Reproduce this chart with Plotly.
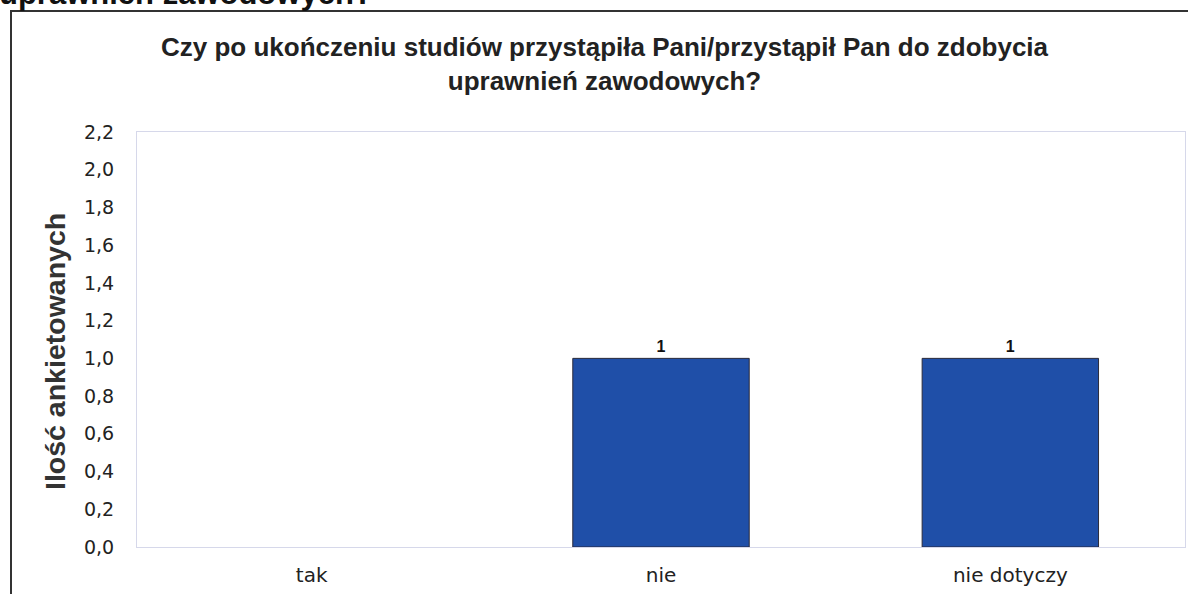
import plotly.graph_objects as go

categories = ["tak", "nie", "nie dotyczy"]
values = [0, 1, 1]
y_ticks = [0.0, 0.2, 0.4, 0.6, 0.8, 1.0, 1.2, 1.4, 1.6, 1.8, 2.0, 2.2]

title_text = ("Czy po ukończeniu studiów przystąpiła Pani/przystąpił Pan do zdobycia"
              "<br>uprawnień zawodowych?")
y_title = "Ilość ankietowanych"
cut_heading = "uprawnień zawodowych?"

W, H = 1188, 594
L, R, T, B = 137, 3, 132, 47
pw, ph = W - L - R, H - T - B


def px_x(px):
    """page pixel x -> paper x"""
    return (px - L) / pw


def px_y(py):
    """page pixel y -> paper y"""
    return (H - B - py) / ph


fig = go.Figure()
fig.add_trace(go.Bar(
    x=categories,
    y=values,
    width=0.505,
    marker=dict(color="#1f4fa8",
                line=dict(color="#2b2b3a", width=[1 if v else 0 for v in values])),
    text=[str(v) if v else "" for v in values],
    textposition="outside",
    texttemplate="<b>%{text}</b>",
    textfont=dict(family="Liberation Sans", size=16, color="#111111"),
    cliponaxis=False,
))

tick_labels = [f"{t:.1f}".replace(".", ",") for t in y_ticks]

fig.update_layout(
    width=W, height=H,
    margin=dict(l=L, r=R, t=T, b=B),
    paper_bgcolor="white",
    plot_bgcolor="white",
    showlegend=False,
    xaxis=dict(
        showgrid=False, showline=True, linecolor="#d6d8ea", linewidth=1, mirror=True,
        ticks="", ticklabelstandoff=10,
        tickfont=dict(family="DejaVu Sans", size=20, color="#222222"),
    ),
    yaxis=dict(
        range=[0, 2.2], tickvals=y_ticks, ticktext=tick_labels,
        showgrid=False, showline=True, linecolor="#d6d8ea", linewidth=1, mirror=True,
        ticks="", ticklen=0, zeroline=False, ticklabelstandoff=18,
        tickfont=dict(family="DejaVu Sans", size=19, color="#222222"),
    ),
)

fig.add_annotation(
    text=f"<b>{title_text}</b>", xref="paper", yref="paper",
    x=px_x(605), y=px_y(64), xanchor="center", yanchor="middle",
    showarrow=False, align="center",
    font=dict(family="Liberation Sans", size=26, color="#222222"),
)

# y axis title, placed a little below the middle as in the original
fig.add_annotation(
    text=f"<b>{y_title}</b>", xref="paper", yref="paper",
    x=px_x(55), y=px_y(352), xanchor="center", yanchor="middle",
    textangle=-90, showarrow=False,
    font=dict(family="Liberation Sans", size=28.5, color="#333333"),
)

# heading of the page above the chart, cut off by the top edge
fig.add_annotation(
    text=f"<b>{cut_heading}</b>", xref="paper", yref="paper",
    x=px_x(-3), y=px_y(13), xanchor="left", yanchor="bottom",
    showarrow=False, font=dict(family="Liberation Sans", size=31, color="#111111"),
)

fig.add_shape(
    type="rect", xref="paper", yref="paper",
    x0=px_x(11), x1=px_x(1200), y0=px_y(11), y1=px_y(620),
    line=dict(color="#333333", width=2), fillcolor="rgba(0,0,0,0)", layer="below",
)

# drop the default body margin so the figure starts at the window corner
fig.write_html("out.html", config={"displayModeBar": False},
               post_script="document.body.style.margin = '0';")
